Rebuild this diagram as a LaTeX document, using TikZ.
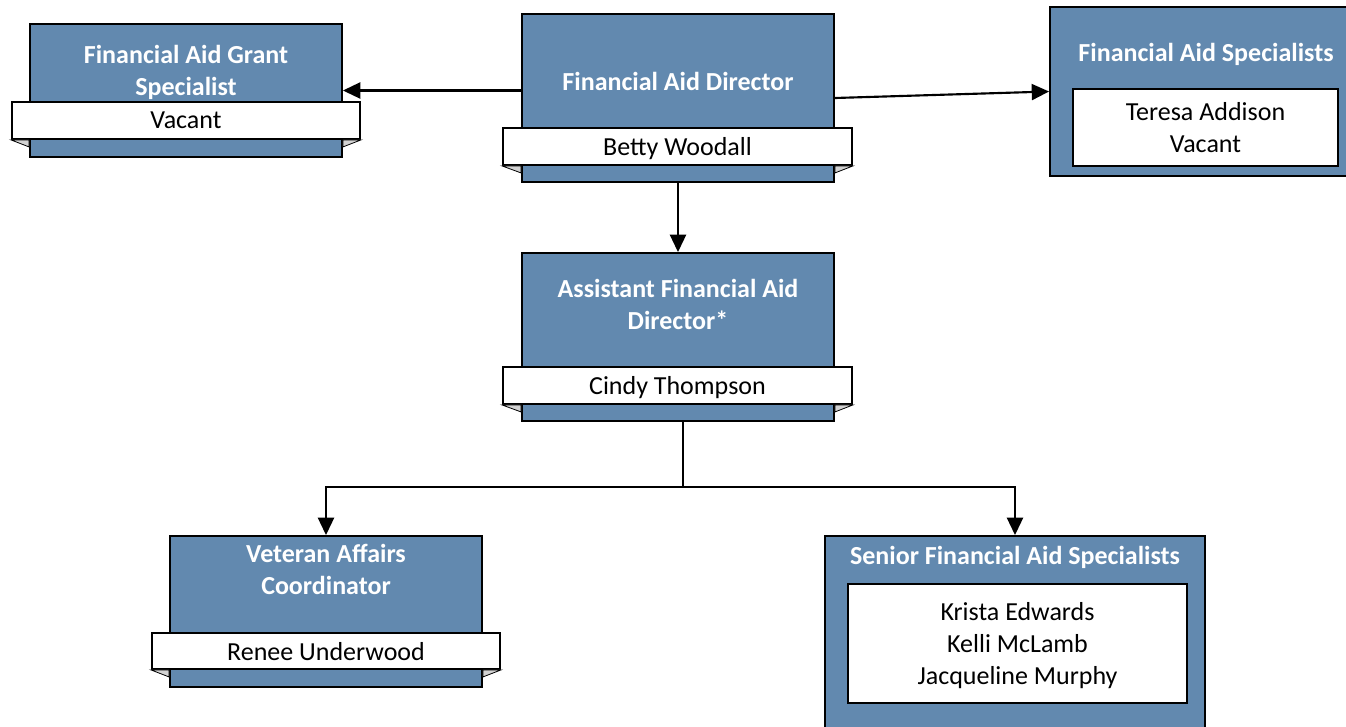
\documentclass[tikz,border=0pt]{standalone}
\usepackage{fontspec}
\setmainfont{Carlito}
\usetikzlibrary{arrows.meta,positioning}
\definecolor{roleblue}{RGB}{98,137,175}
\definecolor{bevelgray}{RGB}{210,210,210}

\tikzset{
  rolebox/.style={draw=black, line width=1.4pt, fill=roleblue, inner sep=0pt},
  namebox/.style={draw=black, line width=1.4pt, fill=white, inner sep=0pt,
    text depth=0pt, align=center, font=\fontsize{19.5}{24}\selectfont},
  roletitle/.style={text=white, inner sep=0pt, align=center,
    font=\fontsize{19.5}{24}\selectfont\bfseries},
  link/.style={line width=1.6pt, -{Triangle[length=13pt,width=12pt]}},
}

% small grey wedges under the name strip
\newcommand{\namebevel}[2]{%
  \filldraw[fill=bevelgray, draw=black, line width=0.6pt]
    (#2.south west) -- (#2.south west -| #1.west) -- ++(0,7) -- cycle;
  \filldraw[fill=bevelgray, draw=black, line width=0.6pt]
    (#2.south east) -- (#2.south east -| #1.east) -- ++(0,7) -- cycle;
}

\begin{document}
\begin{tikzpicture}[x=0.75pt, y=-0.75pt] % one unit = one pixel
  \clip (0,0) rectangle (1346,726);

  % Grant specialist
  \node[rolebox, minimum width=234pt, minimum height=99.75pt] (grant) at (186,90.5) {};
  \node[roletitle] (grantT) at (186,72) {Financial Aid Grant\\Specialist};
  \node[namebox, minimum width=261pt, minimum height=27.75pt] (grantN) at (186,120.5) {Vacant};
  \namebevel{grant}{grantN}

  % Director
  \node[rolebox, minimum width=234pt, minimum height=126pt] (dir) at (678,98) {};
  \node[roletitle] (dirT) at (678,81) {Financial Aid Director};
  \node[namebox, minimum width=261.75pt, minimum height=27.75pt] (dirN) at (677.5,146.5) {Betty Woodall};
  \namebevel{dir}{dirN}

  % Specialists
  \node[rolebox, minimum width=234pt, minimum height=126.75pt] (spec) at (1206,91.5) {};
  \node[roletitle] (specT) at (1206,54) {Financial Aid Specialists};
  \node[namebox, minimum width=198.75pt, minimum height=57.75pt] (specN) at (1205.5,127.5) {Teresa Addison\\Vacant};

  % Assistant director
  \node[rolebox, minimum width=234pt, minimum height=126pt] (asst) at (678,337) {};
  \node[roletitle] (asstT) at (678,304) {Assistant Financial Aid\\Director*};
  \node[namebox, minimum width=261.75pt, minimum height=27.75pt] (asstN) at (677.5,385.5) {Cindy Thompson};
  \namebevel{asst}{asstN}

  % Veteran affairs
  \node[rolebox, minimum width=234pt, minimum height=113.25pt] (vet) at (326,611.5) {};
  \node[roletitle] (vetT) at (326,569) {Veteran Affairs\\Coordinator};
  \node[namebox, minimum width=261pt, minimum height=27pt] (vetN) at (326,651) {Renee Underwood};
  \namebevel{vet}{vetN}

  % Senior specialists
  \node[rolebox, minimum width=285pt, minimum height=156.75pt] (sen) at (1015,640.5) {};
  \node[roletitle] (senT) at (1015,557) {Senior Financial Aid Specialists};
  \node[namebox, minimum width=254.25pt, minimum height=89.25pt] (senN) at (1017.5,643.5) {Krista Edwards\\Kelli McLamb\\Jacqueline Murphy};

  % Connectors
  \draw[link] (dir.west |- grant.east) -- (grant.east);
  \draw[link] (dir.east) -- (spec.west);
  \draw[link] (dir.south) -- (asst.north);
  \coordinate (split) at ([xshift=3.75pt]asst.south |- 0,487);
  \draw[line width=1.6pt] ([xshift=3.75pt]asst.south) -- (split);
  \draw[link] (split) -| (vet.north);
  \draw[link] (split) -| (sen.north);
\end{tikzpicture}
\end{document}
